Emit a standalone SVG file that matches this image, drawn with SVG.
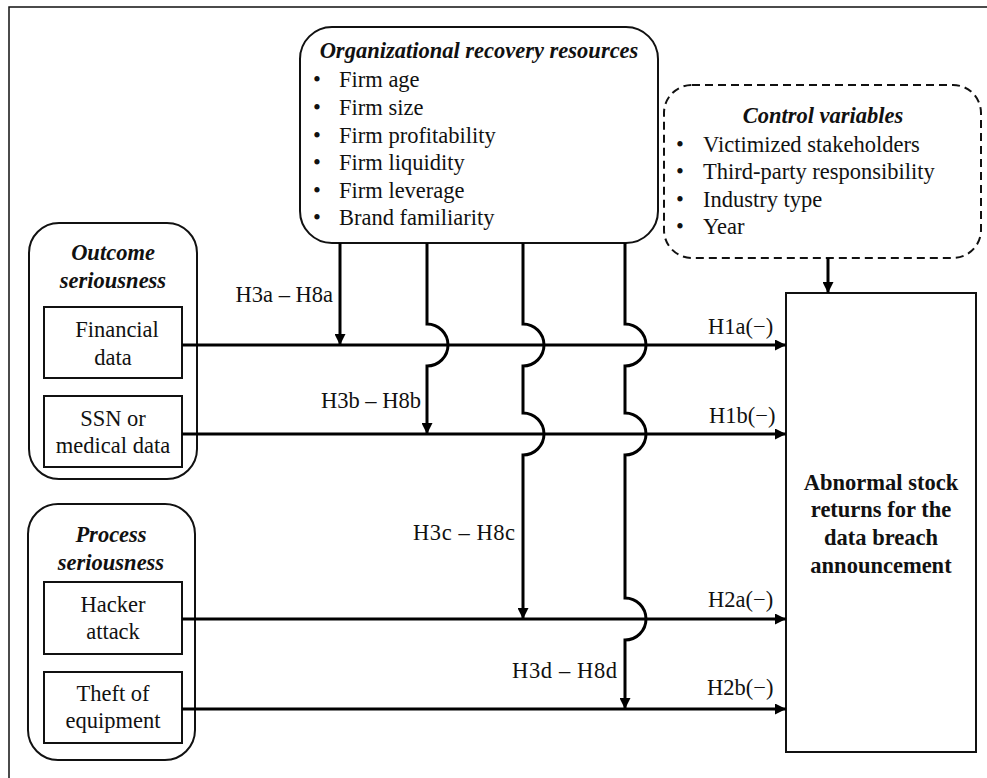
<svg xmlns="http://www.w3.org/2000/svg" width="987" height="778" viewBox="0 0 987 778" font-family="'Liberation Serif', 'Times New Roman', Times, 'DejaVu Serif', serif">
<style>
text{font-family:"Liberation Serif","Times New Roman",Times,"DejaVu Serif",serif;font-size:22.5px;fill:#111}
.bi{font-weight:bold;font-style:italic}
.b{font-weight:bold}
.c{text-anchor:middle}
.e{text-anchor:end}
.box{fill:#fff;stroke:#111;stroke-width:2}
.conn{fill:none;stroke:#000;stroke-width:3}
</style>
<defs>
<marker id="arr" viewBox="0 0 10 10" refX="10" refY="5" markerWidth="11" markerHeight="11" markerUnits="userSpaceOnUse" orient="auto">
<path d="M0,0 L10,5 L0,10 Z" fill="#000"/>
</marker>
</defs>
<rect x="0" y="0" width="987" height="778" fill="#fff"/>
<path d="M9,778 V7 H987" fill="none" stroke="#111" stroke-width="1.5"/>

<g id="org">
<rect class="box" x="300" y="27" width="358" height="216" rx="32"/>
<text class="bi c" x="479" y="58">Organizational recovery resources</text>
<text x="313" y="87">•</text><text x="339" y="87">Firm age</text>
<text x="313" y="115">•</text><text x="339" y="115">Firm size</text>
<text x="313" y="143">•</text><text x="339" y="143">Firm profitability</text>
<text x="313" y="170">•</text><text x="339" y="170">Firm liquidity</text>
<text x="313" y="198">•</text><text x="339" y="198">Firm leverage</text>
<text x="313" y="225">•</text><text x="339" y="225">Brand familiarity</text>
</g>

<g id="control">
<rect x="664" y="85" width="317" height="173" rx="28" fill="#fff" stroke="#111" stroke-width="2" stroke-dasharray="8,5"/>
<text class="bi c" x="823" y="123">Control variables</text>
<text x="676" y="152">•</text><text x="703" y="152">Victimized stakeholders</text>
<text x="676" y="179">•</text><text x="703" y="179">Third-party responsibility</text>
<text x="676" y="207">•</text><text x="703" y="207">Industry type</text>
<text x="676" y="234">•</text><text x="703" y="234">Year</text>
</g>

<g id="outcome">
<rect class="box" x="29" y="223" width="168" height="256" rx="30"/>
<text class="bi c" x="113" y="260">Outcome</text>
<text class="bi c" x="113" y="288">seriousness</text>
</g>
<g id="financial">
<rect class="box" x="44" y="307" width="138" height="71"/>
<text class="c" x="117" y="337">Financial</text>
<text class="c" x="113" y="365">data</text>
</g>
<g id="ssn">
<rect class="box" x="44" y="396" width="138" height="71"/>
<text class="c" x="113" y="426">SSN or</text>
<text class="c" x="113" y="453">medical data</text>
</g>

<g id="process">
<rect class="box" x="28" y="504" width="167" height="256" rx="30"/>
<text class="bi c" x="111" y="542">Process</text>
<text class="bi c" x="111" y="570">seriousness</text>
</g>
<g id="hacker">
<rect class="box" x="44" y="582" width="138" height="72"/>
<text class="c" x="113" y="612">Hacker</text>
<text class="c" x="113" y="639">attack</text>
</g>
<g id="theft">
<rect class="box" x="44" y="672" width="138" height="71"/>
<text class="c" x="113" y="701">Theft of</text>
<text class="c" x="113" y="728">equipment</text>
</g>

<g id="target">
<rect class="box" x="786" y="293" width="190" height="459"/>
<text class="b c" x="881" y="490">Abnormal stock</text>
<text class="b c" x="881" y="517">returns for the</text>
<text class="b c" x="881" y="545">data breach</text>
<text class="b c" x="881" y="573">announcement</text>
</g>

<g id="connectors">
<path class="conn" d="M182,345 H786" marker-end="url(#arr)"/>
<path class="conn" d="M182,434 H786" marker-end="url(#arr)"/>
<path class="conn" d="M182,619 H786" marker-end="url(#arr)"/>
<path class="conn" d="M182,709 H786" marker-end="url(#arr)"/>
<path class="conn" d="M828,258 V293" marker-end="url(#arr)"/>
<path class="conn" d="M340,243 V345" marker-end="url(#arr)"/>
<path class="conn" d="M427,243 V324 A21,21 0 0 1 427,366 V434" marker-end="url(#arr)"/>
<path class="conn" d="M523,243 V324 A21,21 0 0 1 523,366 V413 A21,21 0 0 1 523,455 V619" marker-end="url(#arr)"/>
<path class="conn" d="M625,243 V324 A21,21 0 0 1 625,366 V413 A21,21 0 0 1 625,455 V598 A21,21 0 0 1 625,640 V709" marker-end="url(#arr)"/>
</g>

<g id="labels">
<text class="e" x="333" y="302">H3a – H8a</text>
<text class="e" x="421" y="408">H3b – H8b</text>
<text x="413" y="540" textLength="102">H3c – H8c</text>
<text x="512" y="678" textLength="105">H3d – H8d</text>
<text x="708" y="334">H1a(−)</text>
<text x="709" y="423">H1b(−)</text>
<text x="708" y="607">H2a(−)</text>
<text x="707" y="695">H2b(−)</text>
</g>
</svg>
